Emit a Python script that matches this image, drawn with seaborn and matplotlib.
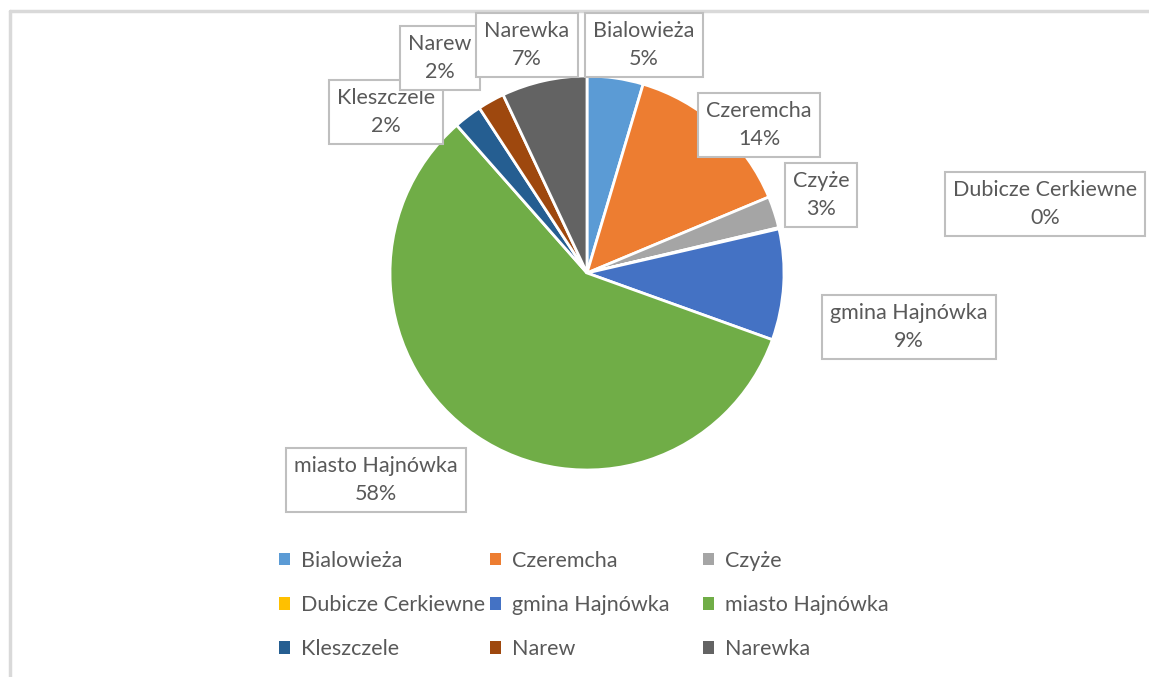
import numpy as np
import pandas as pd
import seaborn as sns
import matplotlib.pyplot as plt
from matplotlib.lines import Line2D
from matplotlib.patches import Patch

# share of each gmina (percent)
gminy = ["Bialowieża", "Czeremcha", "Czyże", "Dubicze Cerkiewne", "gmina Hajnówka",
         "miasto Hajnówka", "Kleszczele", "Narew", "Narewka"]
shares = [4.6, 14.1, 2.6, 0.1, 9.1, 58.0, 2.3, 2.2, 7.0]
colors = ["#5B9BD5", "#ED7D31", "#A5A5A5", "#FFC000", "#4472C4",
          "#70AD47", "#255E91", "#9E480E", "#636363"]

# label box centres in pixels (layout only)
label_px = {
    "Bialowieża": (644, 45), "Czeremcha": (759, 125), "Czyże": (821, 195),
    "Dubicze Cerkiewne": (1045, 204), "gmina Hajnówka": (909, 327),
    "miasto Hajnówka": (376, 480), "Kleszczele": (386, 112),
    "Narew": (440, 58), "Narewka": (527, 45),
}

df = pd.DataFrame({"gmina": gminy, "share": shares, "color": colors})

W, H = 1149, 677
sns.set_theme(style="white")
plt.rcParams["font.family"] = ["Lato", "DejaVu Sans"]
TXT = "#595959"

fig = plt.figure(figsize=(W / 100, H / 100), dpi=100)
cx, cy, r = 587, 273, 197
ax = fig.add_axes([(cx - r) / W, (H - cy - r) / H, 2 * r / W, 2 * r / H])
ax.pie(df["share"], colors=df["color"], startangle=90, counterclock=False,
       radius=1, wedgeprops=dict(edgecolor="white", linewidth=2))
ax.set_xlim(-1, 1)
ax.set_ylim(-1, 1)
ax.set_aspect("equal")
ax.axis("off")

# leader line from the top of the pie
ax.plot([0, 0], [1, 1.33], color="#7F7F7F", lw=1.2, clip_on=False)

for i, row in df.iterrows():
    x, y = label_px[row["gmina"]]
    fig.text(x / W, 1 - y / H, f"{row['gmina']}\n{row['share']:.0f}%",
             ha="center", va="center", fontsize=15.5, color=TXT, linespacing=1.5,
             zorder=5 + i,
             bbox=dict(boxstyle="square,pad=0.38", fc="white", ec="#BFBFBF", lw=1.5))

# legend, three columns placed row by row
handles = [Patch(facecolor=c, edgecolor="none") for c in df["color"]]
col_x = [279, 490, 703]
for k in range(3):
    idx = [k, k + 3, k + 6]
    leg = fig.legend([handles[j] for j in idx], [gminy[j] for j in idx],
                     loc="upper left", bbox_to_anchor=(col_x[k] / W, 1 - 551 / H),
                     frameon=False, fontsize=15.5, labelcolor=TXT,
                     handlelength=0.5, handleheight=0.5, handletextpad=0.5,
                     labelspacing=1.12, borderaxespad=0, borderpad=0)

# outer chart frame (top and left edges visible)
fig.add_artist(Line2D([10 / W, 1], [1 - 11 / H, 1 - 11 / H], color="#D9D9D9", lw=2.5))
fig.add_artist(Line2D([10 / W, 10 / W], [0, 1 - 11 / H], color="#D9D9D9", lw=2.5))

fig.savefig("out.png", dpi=100, facecolor="white")
